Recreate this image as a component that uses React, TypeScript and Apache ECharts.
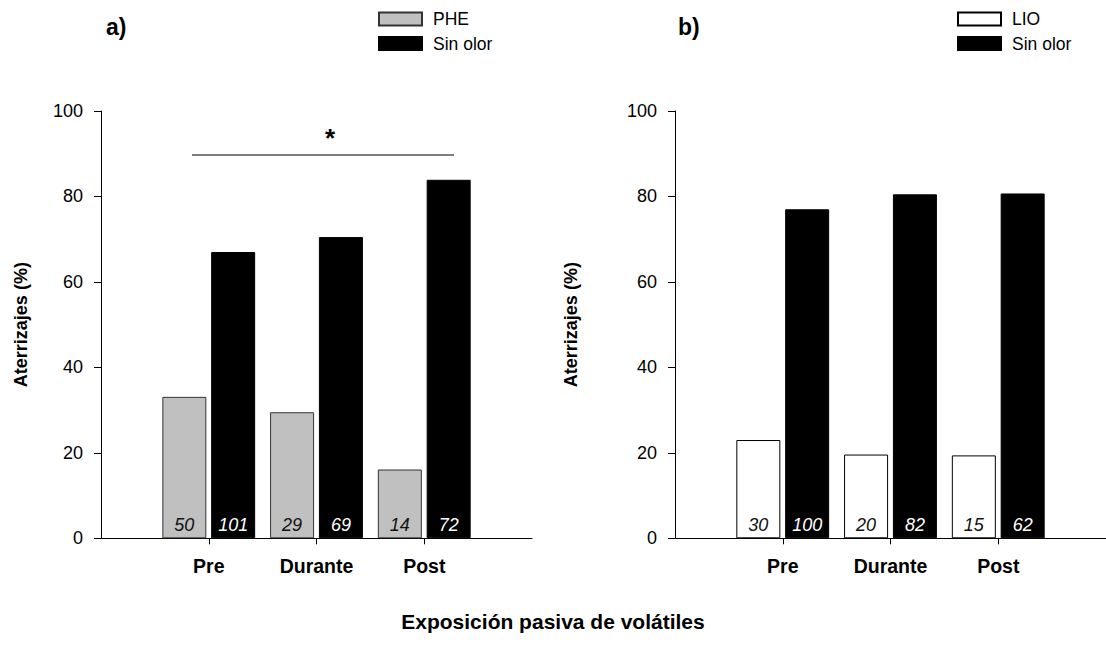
import React, { useEffect, useRef } from "react";
import * as echarts from "echarts";

const categories = ["", "Pre", "Durante", "Post", ""];
const pheValues = [null, 33.1, 29.5, 16.1, null];
const sinOlorA = [null, 67.0, 70.5, 83.9, null];
const pheN = ["", "50", "29", "14", ""];
const sinOlorAN = ["", "101", "69", "72", ""];
const lioValues = [null, 23.0, 19.6, 19.4, null];
const sinOlorB = [null, 77.0, 80.5, 80.7, null];
const lioN = ["", "30", "20", "15", ""];
const sinOlorBN = ["", "100", "82", "62", ""];
const yTicks = { min: 0, max: 100, interval: 20 };

const FONT = "'Liberation Sans', Arial, Helvetica, sans-serif";

export default function App() {
  const ref = useRef<HTMLDivElement>(null);
  useEffect(() => {
    if (!ref.current) return;
    const chart = echarts.init(ref.current, null, { renderer: "svg" });
    const showIdx = (i: number) => i >= 1 && i <= 3;
    const xAxis = (gi: number) => ({
      type: "category",
      gridIndex: gi,
      data: categories,
      boundaryGap: false,
      axisLine: { lineStyle: { color: "#000", width: 1 } },
      axisTick: { show: true, inside: false, length: 6, interval: (i: number) => showIdx(i), lineStyle: { color: "#000" } },
      axisLabel: { interval: (i: number) => showIdx(i), fontFamily: FONT, fontSize: 19.5, fontWeight: "bold", color: "#000", margin: 18 },
      splitLine: { show: false },
    });
    const yAxis = (gi: number, gap: number) => ({
      type: "value",
      gridIndex: gi,
      min: yTicks.min,
      max: yTicks.max,
      interval: yTicks.interval,
      name: "Aterrizajes (%)",
      nameLocation: "middle",
      nameGap: gap,
      nameTextStyle: { fontFamily: FONT, fontSize: 18, fontWeight: "bold", color: "#000" },
      axisLine: { show: true, lineStyle: { color: "#000", width: 1 } },
      axisTick: { show: true, inside: false, length: 7, lineStyle: { color: "#000" } },
      axisLabel: { fontFamily: FONT, fontSize: 18, color: "#000", margin: 18 },
      splitLine: { show: false },
    });
    const lbl = (arr: string[], color: string) => ({
      show: true,
      position: "insideBottom",
      distance: 4,
      formatter: (p: any) => arr[p.dataIndex],
      fontFamily: FONT,
      fontSize: 18,
      fontStyle: "italic",
      color,
    });
    const bar = (name: string, xi: number, data: any[], fill: string, border: string, labels: string[], lc: string) => ({
      type: "bar",
      name,
      xAxisIndex: xi,
      yAxisIndex: xi,
      data,
      barWidth: 44,
      barGap: "11%",
      itemStyle: { color: fill, borderColor: border, borderWidth: 1 },
      label: lbl(labels, lc),
      emphasis: { disabled: true },
    });
    const legendBase = {
      orient: "vertical",
      top: 10,
      padding: 0,
      itemWidth: 43,
      itemHeight: 13,
      itemGap: 6.5,
      icon: "rect",
      selectedMode: false,
      textStyle: { fontFamily: FONT, fontSize: 17.5, color: "#000", padding: [0, 0, 0, 6] },
    };
    chart.setOption({
      animation: false,
      textStyle: { fontFamily: FONT },
      grid: [
        { left: 101, top: 111, width: 431, height: 427.3 },
        { left: 675, top: 111, width: 431, height: 427.3 },
      ],
      xAxis: [xAxis(0), xAxis(1)],
      yAxis: [yAxis(0, 71), yAxis(1, 95)],
      legend: [
        { ...legendBase, data: ["PHE", "Sin olor"], left: 378 },
        { ...legendBase, data: ["LIO", "Sin olor"], left: 957 },
      ],
      series: [
        bar("PHE", 0, pheValues, "#c0c0c0", "#333", pheN, "#111"),
        bar("Sin olor", 0, sinOlorA, "#000", "#000", sinOlorAN, "#fff"),
        bar("LIO", 1, lioValues, "#fff", "#000", lioN, "#111"),
        bar("Sin olor", 1, sinOlorB, "#000", "#000", sinOlorBN, "#fff"),
      ],
      graphic: [
        { type: "text", left: 106, top: 15, style: { text: "a)", font: `bold 23px ${FONT}`, fill: "#000" } },
        { type: "text", left: 678, top: 15, style: { text: "b)", font: `bold 23px ${FONT}`, fill: "#000" } },
        { type: "line", shape: { x1: 192, y1: 155, x2: 454, y2: 155 }, style: { stroke: "#000", lineWidth: 1 } },
        { type: "text", x: 330, y: 138, style: { text: "*", font: `bold 26px ${FONT}`, fill: "#000", align: "center", verticalAlign: "middle" } },
        { type: "text", x: 553, y: 621, style: { text: "Exposición pasiva de volátiles", font: `bold 21px ${FONT}`, fill: "#000", align: "center", verticalAlign: "middle" } },
      ],
    });
    return () => chart.dispose();
  }, []);
  return <div ref={ref} style={{ width: 1106, height: 659, position: "absolute", left: 0, top: 0 }} />;
}
